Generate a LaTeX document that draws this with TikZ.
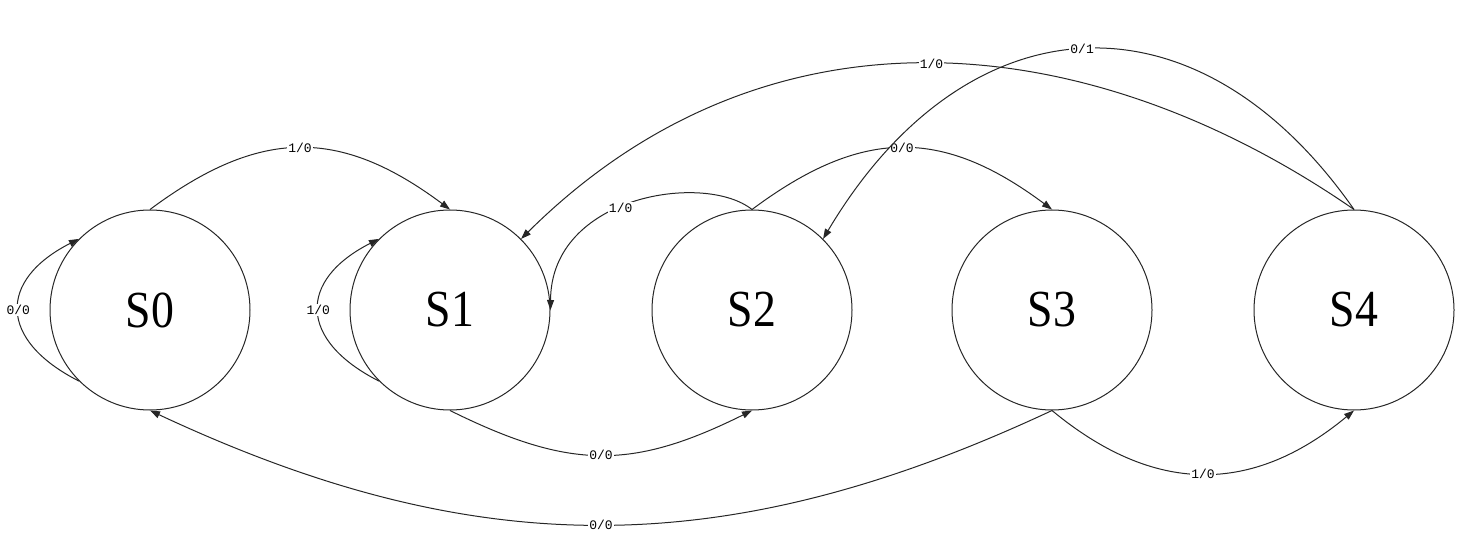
\documentclass[tikz,border=0pt]{standalone}
\usepackage{fontspec}
\usepackage{graphicx}
\setmainfont{Liberation Serif}
\newfontfamily\lblfont{Liberation Mono}
\usetikzlibrary{arrows.meta}
\begin{document}
\begin{tikzpicture}[x=1pt,y=-1pt,
  state/.style={draw=black!85, line width=1pt, circle, minimum size=200pt,
    inner sep=0pt, font=\fontsize{52}{52}\selectfont},
  trans/.style={draw=black!85, line width=1pt,
    -{Triangle[length=10pt,width=7pt]}},
  lbl/.style={fill=white, inner sep=1pt, text=black,
    font=\lblfont\fontsize{13}{13}\selectfont}]
\useasboundingbox (0,0) rectangle (1461,537);

% states
\node[state] (s0) at (150,310)  {\scalebox{0.88}[1]{S0}};
\node[state] (s1) at (450,310)  {\scalebox{0.88}[1]{S1}};
\node[state] (s2) at (752,310)  {\scalebox{0.88}[1]{S2}};
\node[state] (s3) at (1052,310) {\scalebox{0.88}[1]{S3}};
\node[state] (s4) at (1354,310) {\scalebox{0.88}[1]{S4}};

% self loops
\draw[trans] (s0.225) .. controls (-2,340) and (-2,280) .. (s0.135)
  node[lbl,pos=0.5] {0/0};
\draw[trans] (s1.225) .. controls (298,340) and (298,280) .. (s1.135)
  node[lbl,pos=0.5] {1/0};

% arcs over the top
\draw[trans] (s0.north) .. controls (260,127.5) and (340,127.5) .. (s1.north)
  node[lbl,pos=0.5] {1/0};
\draw[trans] (s2.north) .. controls (862,127.5) and (942,127.5) .. (s3.north)
  node[lbl,pos=0.5] {0/0};
\draw[trans] (s2.north) .. controls (705,172) and (551,195) .. (s1.east)
  node[lbl,pos=0.55] {1/0};
\draw[trans] (s4.north) .. controls (1090,27) and (769,-7) .. (s1.45)
  node[lbl,pos=0.5] {1/0};
\draw[trans] (s4.north) .. controls (1195,-18) and (965,0) .. (s2.45)
  node[lbl,pos=0.5] {0/1};

% arcs underneath
\draw[trans] (s1.south) .. controls (570,470) and (632,470) .. (s2.south)
  node[lbl,pos=0.5] {0/0};
\draw[trans] (s3.south) .. controls (1154,495) and (1252,495) .. (s4.south)
  node[lbl,pos=0.5] {1/0};
\draw[trans] (s3.south) .. controls (726,563) and (476,563) .. (s0.south)
  node[lbl,pos=0.5] {0/0};
\end{tikzpicture}
\end{document}
